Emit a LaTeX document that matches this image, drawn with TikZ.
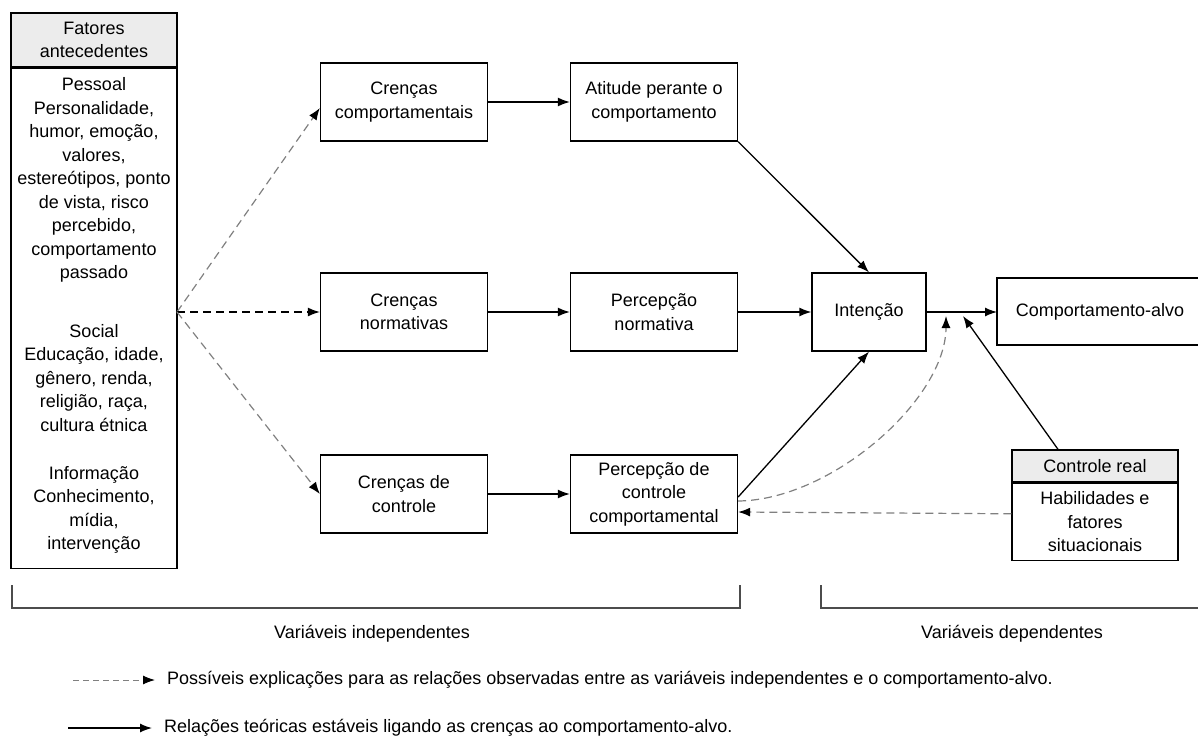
\documentclass[tikz,border=0pt]{standalone}
\usepackage{fontspec}
\setmainfont{Liberation Sans}
\usetikzlibrary{arrows.meta}
\newcommand\bodyfont{\fontsize{18}{23.5}\selectfont}
\tikzset{
  box/.style={draw, line width=1.3pt, fill=white, align=center, inner sep=0pt, font=\bodyfont},
  hdr/.style={draw, line width=1.3pt, fill=gray!15, align=center, inner sep=0pt, font=\bodyfont},
  txt/.style={align=center, inner sep=0pt, font=\bodyfont},
  tip/.style={-{Latex[length=12pt,width=9pt,color=black]}},
  solidarr/.style={tip, line width=1.3pt, black},
  grayarr/.style={tip, line width=1.2pt, gray, dash pattern=on 8pt off 5pt},
  blackdash/.style={tip, line width=1.2pt, black, dash pattern=on 8pt off 5pt},
  brk/.style={line width=1.2pt, black!70}
}
\begin{document}
\begin{tikzpicture}[x=1pt,y=-1pt]
\useasboundingbox (0,0) rectangle (1198,738);

% antecedent factors
\node[hdr, minimum width=166, minimum height=54] (anth) at (94,40) {Fatores\\antecedentes};
\node[box, minimum width=166, minimum height=500, anchor=north] (antb) at (anth.south) {};
\node[txt] (g1) at (94,180) {Pessoal\\Personalidade,\\humor, emoção,\\valores,\\estereótipos, ponto\\de vista, risco\\percebido,\\comportamento\\passado};
\node[txt] (g2) at (94,378) {Social\\Educação, idade,\\gênero, renda,\\religião, raça,\\cultura étnica};
\node[txt] (g3) at (94,510) {Informação\\Conhecimento,\\mídia,\\intervenção};
\coordinate (src) at (177,312);

% beliefs column
\node[box, minimum width=167, minimum height=78] (cc) at (404,102) {Crenças\\comportamentais};
\node[box, minimum width=167, minimum height=78] (cn) at (404,312) {Crenças\\normativas};
\node[box, minimum width=167, minimum height=78] (cco) at (404,494) {Crenças de\\controle};

% perception column
\node[box, minimum width=167, minimum height=78] (at) at (654,102) {Atitude perante o\\comportamento};
\node[box, minimum width=167, minimum height=78] (pn) at (654,312) {Percepção\\normativa};
\node[box, minimum width=167, minimum height=78] (pcc) at (654,494) {Percepção de\\controle\\comportamental};

% intention and behaviour
\node[box, minimum width=114, minimum height=78] (int) at (869,312) {Intenção};
\draw[line width=1.3pt] (1199,278) -- (997,278) -- (997,345) -- (1199,345);
\node[txt] (beh) at (1100,311.5) {Comportamento-alvo};
\coordinate (behw) at (997,312);

% actual control
\node[hdr, minimum width=166, minimum height=32] (crh) at (1095,466) {Controle real};
\node[box, minimum width=166, minimum height=77, anchor=north] (crb) at (crh.south) {Habilidades e\\fatores\\situacionais};

% junction points
\coordinate (j1) at (946,316);
\coordinate (j2) at (963,316);

% dashed explanatory arrows
\draw[grayarr] (src) -- ([yshift=-6pt]cc.west);
\draw[blackdash] (src) -- (cn.west);
\draw[grayarr] (src) -- (cco.west);

% solid relations
\draw[solidarr] (cc) -- (at);
\draw[solidarr] (cn) -- (pn);
\draw[solidarr] (cco) -- (pcc);
\draw[solidarr] (at.south east) -- (int.north);
\draw[solidarr] (pn) -- (int);
\draw[solidarr] ([yshift=-3pt]pcc.east) -- (int.south);
\draw[solidarr] (int) -- (behw);
\draw[solidarr] ([xshift=-37pt]crh.north) -- (j2);

% dashed control arrows
\draw[grayarr] ([yshift=-7pt]pcc.east) .. controls (832,500) and (946,399) .. (j1);
\draw[grayarr] ([yshift=8pt]crb.west) -- ([yshift=-18pt]pcc.east);

% brackets
\draw[brk] (12,585) -- (12,608) -- (740,608) -- (740,585);
\draw[brk] (821,585) -- (821,608) -- (1199,608);
\node[txt] (ind) at (372,634) {Variáveis independentes};
\node[txt] (dep) at (1012,634) {Variáveis dependentes};

% legend
\coordinate (l1a) at (73,680);
\coordinate (l1b) at (155,680);
\coordinate (l2a) at (68,728);
\coordinate (l2b) at (152,728);
\draw[tip, line width=1pt, gray, dash pattern=on 6pt off 4pt] (l1a) -- (l1b);
\draw[tip, line width=1.3pt, black] (l2a) -- (l2b);
\node[txt, anchor=west] (leg1) at (167,680) {Possíveis explicações para as relações observadas entre as variáveis independentes e o comportamento-alvo.};
\node[txt, anchor=west] (leg2) at (164,728) {Relações teóricas estáveis ligando as crenças ao comportamento-alvo.};
\end{tikzpicture}
\end{document}
